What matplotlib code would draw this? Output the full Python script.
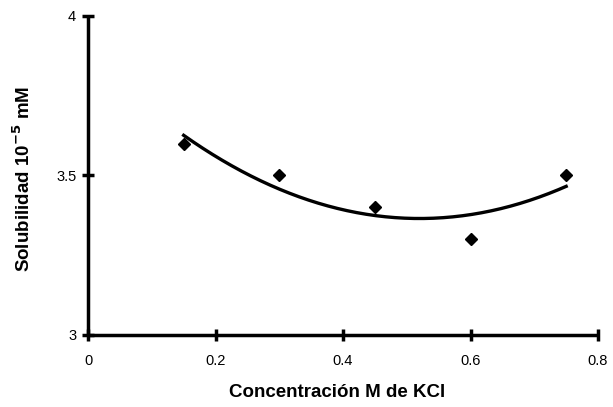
import numpy as np
import matplotlib
matplotlib.use('Agg')
import matplotlib.pyplot as plt

plt.rcParams['font.family'] = ['Liberation Sans', 'DejaVu Sans']

# data
kcl = [0.15, 0.30, 0.45, 0.60, 0.75]
solub = [3.6, 3.5, 3.4, 3.3, 3.5]
xticks = [0, 0.2, 0.4, 0.6, 0.8]
yticks = [3, 3.5, 4]
xtick_labels = ['0', '0.2', '0.4', '0.6', '0.8']
ytick_labels = ['3', '3.5', '4']

fig = plt.figure(figsize=(6.13, 4.07), dpi=100)
ax = fig.add_axes([0.1436, 0.177, 0.832, 0.784])

# polynomial trendline (2nd order), like the spreadsheet one
coef = np.polyfit(kcl, solub, 2)
xs = np.linspace(min(kcl), max(kcl), 200)
ax.plot(xs, np.polyval(coef, xs), color='black', lw=2.4)

ax.plot(kcl, solub, 'D', color='black', ms=6.5, ls='none')

ax.set_xlim(0, 0.8)
ax.set_ylim(3, 4)
ax.set_xticks(xticks)
ax.set_xticklabels(xtick_labels)
ax.set_yticks(yticks)
ax.set_yticklabels(ytick_labels)

for s in ['top', 'right']:
    ax.spines[s].set_visible(False)
for s in ['left', 'bottom']:
    ax.spines[s].set_linewidth(2.5)
    ax.spines[s].set_capstyle('butt')

ax.tick_params(direction='inout', length=9, width=2.5, labelsize=10.5, pad=4)
ax.tick_params(axis='x', pad=9)

ax.set_xlabel('Concentración M de KCl', fontsize=13.5, fontweight='bold')
ax.xaxis.set_label_coords(0.488, -0.155)
ax.set_ylabel('Solubilidad 10$^{\\mathbf{-5}}$ mM', fontsize=13.5, fontweight='bold')
ax.yaxis.set_label_coords(-0.105, 0.49)

fig.savefig('out.png', dpi=100)
